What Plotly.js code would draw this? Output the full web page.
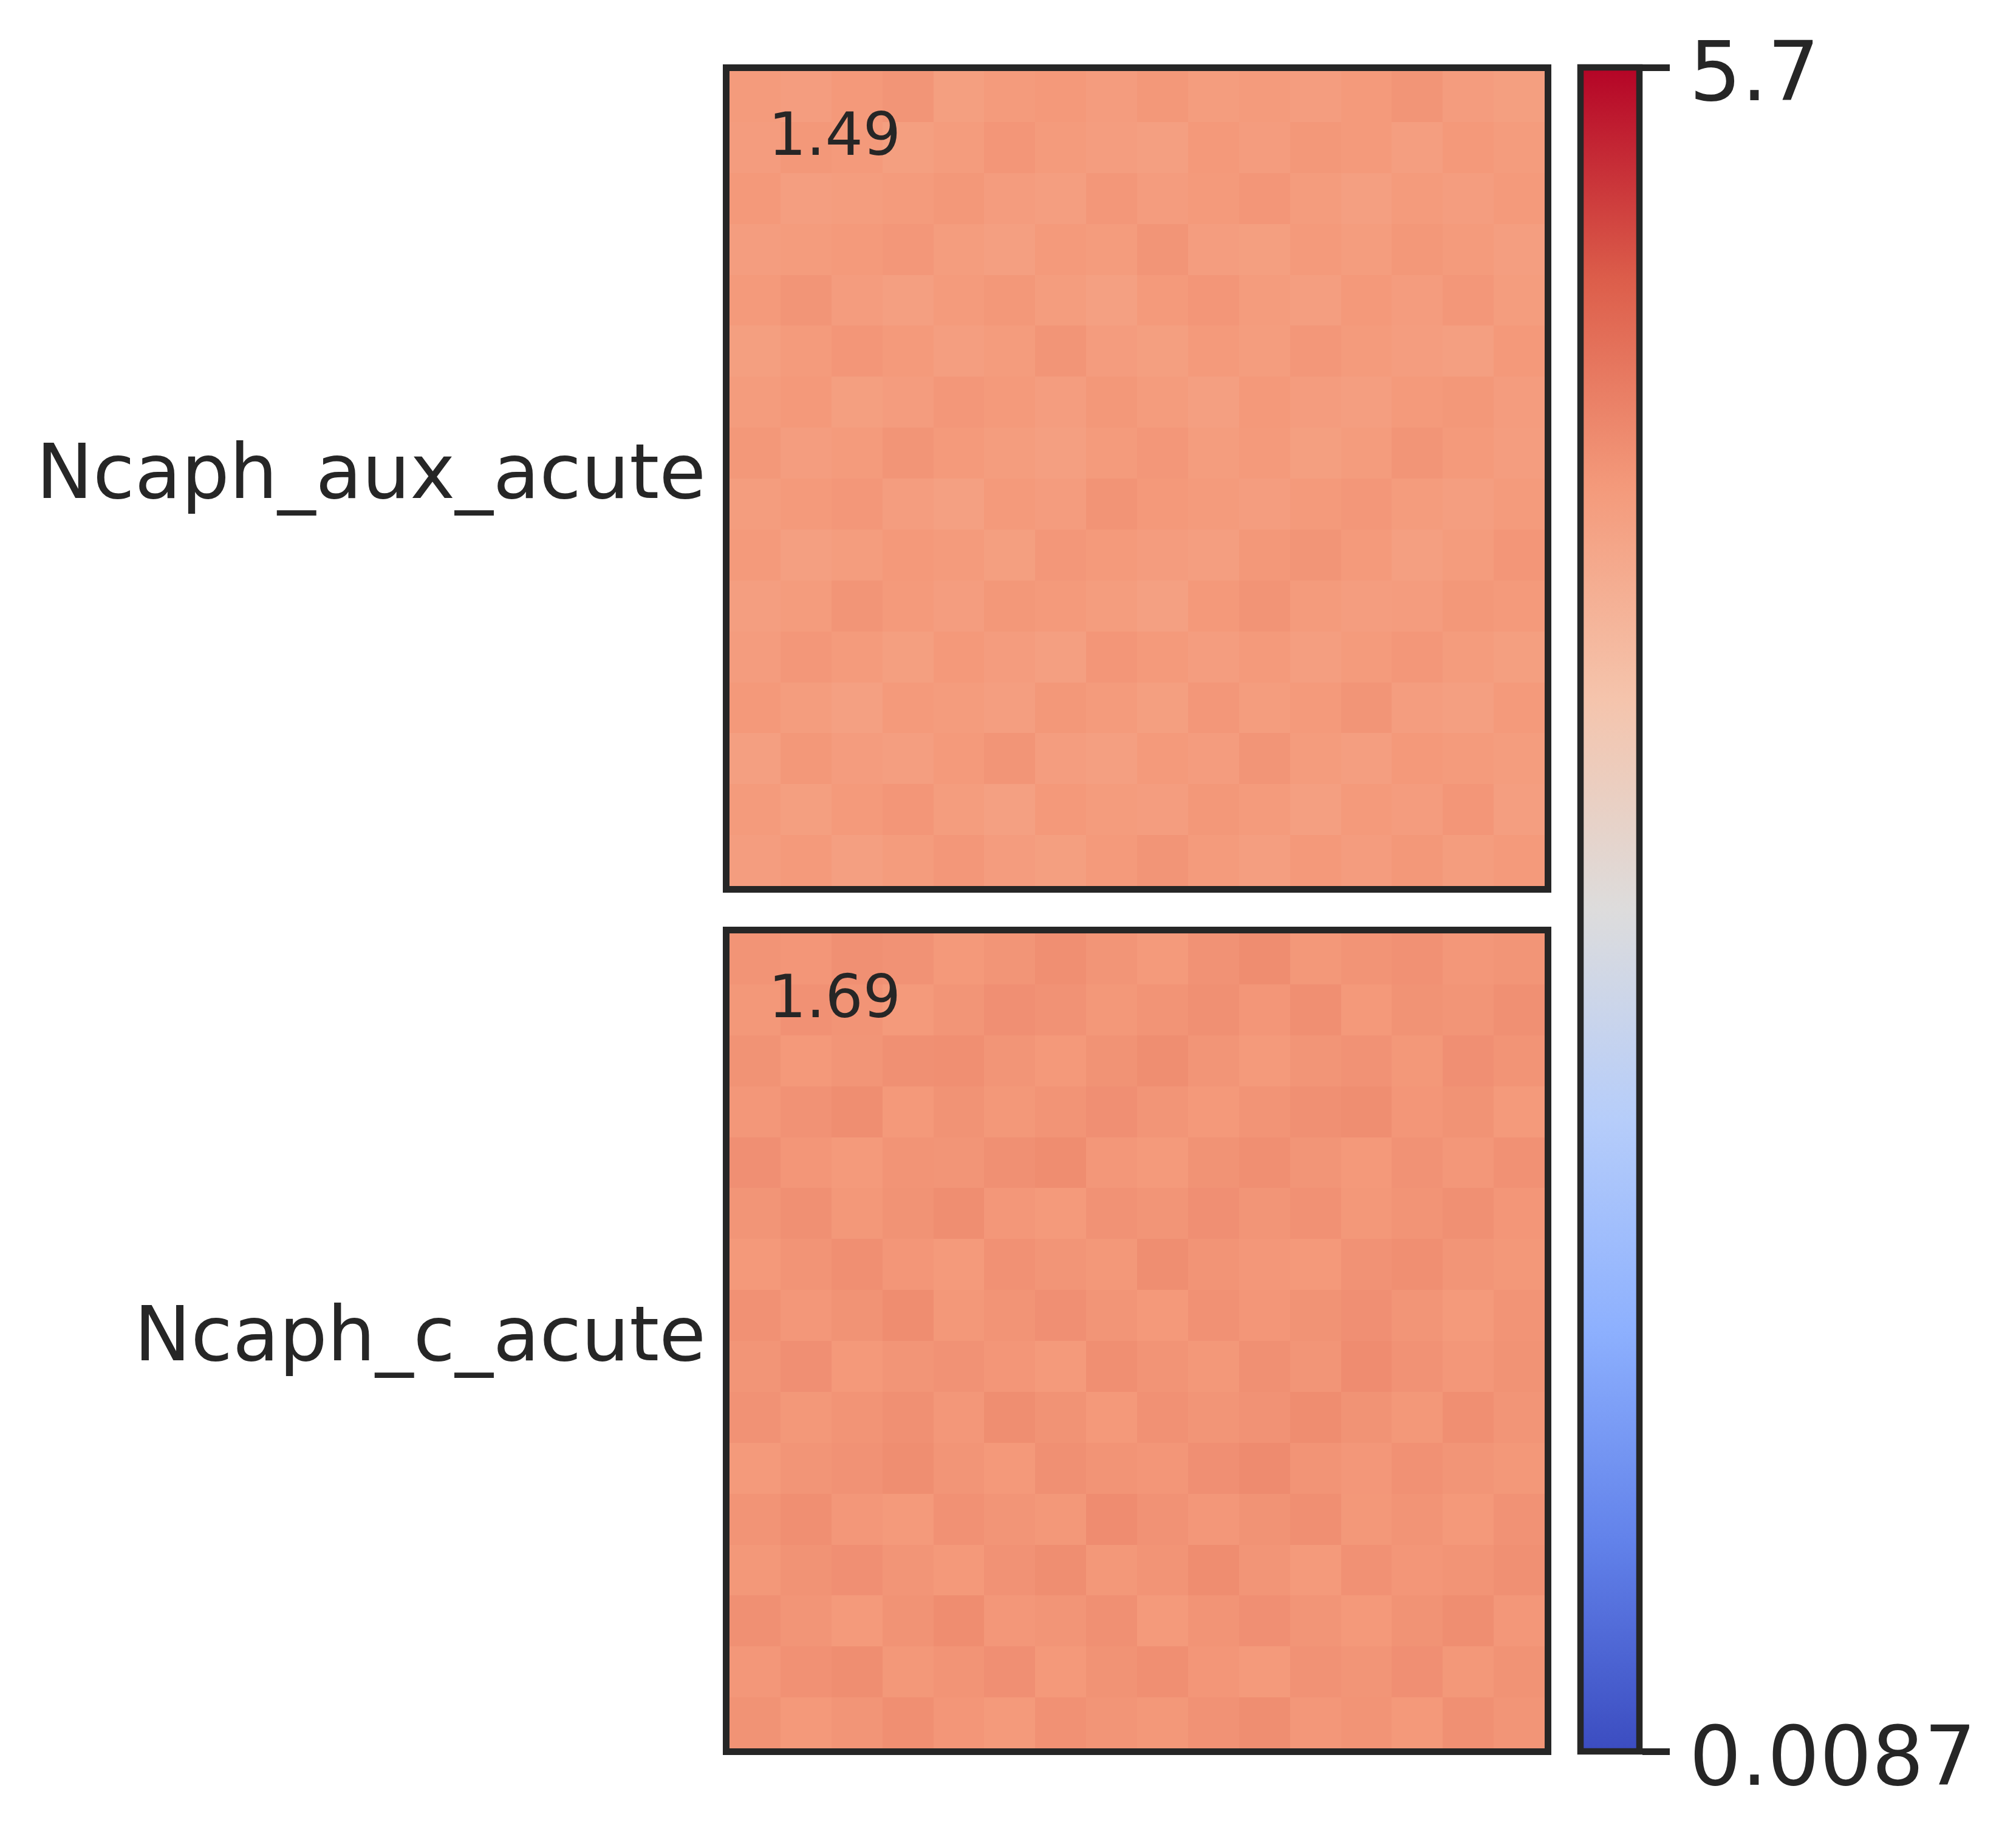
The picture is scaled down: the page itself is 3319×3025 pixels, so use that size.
<!DOCTYPE html>
<html>
<head>
<meta charset="utf-8">
<script src="https://cdn.plot.ly/plotly-3.0.1.min.js"></script>
<style>html,body{margin:0;padding:0;background:#fff}</style>
</head>
<body>
<div id="chart" style="width:3319px;height:3025px"></div>
<script>
// NOTE: the reference holds ~300x300 noise cells per panel, which cannot be read individually.
// These are coarse, hand-estimated block averages; the pixel-level speckle is not reproduced.
const rowLabels = ["Ncaph_aux_acute", "Ncaph_c_acute"];
const panelStats = ["1.49", "1.69"];
const colorTicks = [0.0087, 5.7];
const colorTickText = ["0.0087", "5.7"];
const auxAcute = [
[4.22,4.28,4.19,4.25,4.31,4.24,4.20,4.27,4.33,4.26,4.21,4.29,4.24,4.30,4.23,4.27],
[4.26,4.20,4.27,4.32,4.23,4.18,4.29,4.25,4.22,4.30,4.26,4.19,4.28,4.24,4.32,4.21],
[4.19,4.30,4.24,4.21,4.28,4.33,4.22,4.19,4.27,4.24,4.34,4.25,4.21,4.29,4.26,4.23],
[4.29,4.23,4.18,4.27,4.25,4.21,4.30,4.26,4.20,4.31,4.23,4.28,4.33,4.22,4.19,4.28],
[4.24,4.31,4.26,4.20,4.29,4.24,4.19,4.32,4.28,4.22,4.27,4.21,4.26,4.31,4.25,4.20],
[4.21,4.25,4.33,4.28,4.22,4.30,4.27,4.23,4.18,4.29,4.35,4.26,4.22,4.24,4.30,4.27],
[4.28,4.19,4.23,4.29,4.26,4.20,4.31,4.28,4.24,4.21,4.30,4.34,4.27,4.19,4.25,4.32],
[4.23,4.27,4.31,4.22,4.18,4.27,4.24,4.35,4.29,4.26,4.22,4.28,4.31,4.25,4.21,4.26],
[4.30,4.22,4.26,4.34,4.28,4.23,4.19,4.26,4.31,4.23,4.27,4.20,4.25,4.33,4.28,4.22],
[4.25,4.29,4.20,4.24,4.31,4.27,4.22,4.30,4.25,4.19,4.29,4.24,4.21,4.27,4.30,4.24],
[4.20,4.26,4.32,4.27,4.21,4.25,4.33,4.24,4.20,4.28,4.23,4.31,4.26,4.22,4.19,4.29],
[4.27,4.33,4.24,4.19,4.26,4.30,4.23,4.18,4.27,4.32,4.25,4.21,4.29,4.24,4.31,4.23],
[4.22,4.25,4.28,4.31,4.23,4.19,4.28,4.25,4.33,4.22,4.20,4.27,4.23,4.30,4.26,4.21],
[4.29,4.21,4.23,4.26,4.30,4.24,4.21,4.31,4.24,4.27,4.32,4.25,4.19,4.26,4.22,4.28],
[4.24,4.30,4.27,4.20,4.25,4.32,4.26,4.22,4.19,4.29,4.24,4.30,4.27,4.21,4.29,4.25],
[4.26,4.22,4.29,4.33,4.20,4.26,4.29,4.24,4.30,4.23,4.26,4.22,4.28,4.33,4.24,4.20]
];
const cAcute = [
[4.36,4.29,4.34,4.41,4.32,4.28,4.38,4.33,4.30,4.37,4.42,4.31,4.35,4.29,4.39,4.33],
[4.31,4.38,4.42,4.30,4.35,4.40,4.29,4.36,4.41,4.32,4.28,4.37,4.33,4.40,4.30,4.36],
[4.39,4.33,4.28,4.36,4.43,4.31,4.34,4.39,4.28,4.35,4.40,4.34,4.29,4.36,4.42,4.31],
[4.30,4.36,4.40,4.33,4.29,4.37,4.42,4.30,4.35,4.43,4.33,4.27,4.38,4.32,4.35,4.39],
[4.35,4.41,4.31,4.27,4.38,4.34,4.30,4.44,4.37,4.31,4.36,4.41,4.30,4.35,4.29,4.37],
[4.28,4.34,4.37,4.42,4.33,4.29,4.39,4.35,4.32,4.40,4.45,4.35,4.31,4.38,4.33,4.30],
[4.37,4.30,4.35,4.39,4.31,4.42,4.36,4.29,4.38,4.34,4.37,4.43,4.36,4.30,4.41,4.34],
[4.33,4.40,4.29,4.34,4.37,4.32,4.28,4.41,4.35,4.30,4.39,4.33,4.44,4.37,4.31,4.36],
[4.38,4.31,4.36,4.43,4.30,4.35,4.40,4.33,4.29,4.38,4.32,4.36,4.40,4.34,4.28,4.35],
[4.29,4.35,4.41,4.32,4.28,4.38,4.34,4.30,4.42,4.35,4.31,4.29,4.37,4.41,4.33,4.30],
[4.34,4.39,4.30,4.36,4.42,4.31,4.27,4.37,4.33,4.40,4.34,4.38,4.30,4.35,4.39,4.32],
[4.40,4.32,4.28,4.35,4.33,4.39,4.43,4.31,4.28,4.36,4.41,4.33,4.29,4.37,4.31,4.38],
[4.31,4.37,4.42,4.29,4.36,4.30,4.35,4.40,4.34,4.29,4.35,4.39,4.42,4.32,4.36,4.28],
[4.36,4.29,4.33,4.39,4.41,4.34,4.29,4.36,4.42,4.33,4.28,4.34,4.37,4.30,4.40,4.35],
[4.30,4.38,4.35,4.28,4.34,4.40,4.37,4.30,4.35,4.39,4.32,4.41,4.29,4.36,4.33,4.39],
[4.35,4.32,4.39,4.37,4.29,4.33,4.41,4.34,4.28,4.37,4.43,4.30,4.35,4.38,4.31,4.34]
];
const coolwarm = [
[0,"#3b4cc0"],[0.125,"#6282ea"],[0.25,"#8db0fe"],[0.375,"#b6cdfa"],[0.5,"#dddcdc"],
[0.625,"#f5c4ac"],[0.75,"#f49a7b"],[0.875,"#dc5d4a"],[1,"#b40426"]
];
const W=3319,H=3025,ink="#262626",lw=10.5;
const fx=p=>p/W, fy=p=>1-p/H;
function axisBase(){return {showgrid:false,zeroline:false,showline:true,mirror:true,linecolor:ink,linewidth:lw,fixedrange:true};}
const data=[
 {type:"heatmap",z:auxAcute,xaxis:"x",yaxis:"y",coloraxis:"coloraxis",hoverinfo:"skip"},
 {type:"heatmap",z:cAcute,xaxis:"x2",yaxis:"y2",coloraxis:"coloraxis",hoverinfo:"skip"}
];
function yAxis(label,top,bottom){return Object.assign(axisBase(),{domain:[fy(bottom),fy(top)],tickmode:"array",tickvals:[7.64],ticktext:[label],
  ticks:"outside",ticklen:3,tickcolor:"rgba(0,0,0,0)",tickwidth:1,tickfont:{family:"DejaVu Sans",size:125,color:ink}});}
function xAxis(anchor){return Object.assign(axisBase(),{domain:[fx(1201),fx(2543)],anchor:anchor,showticklabels:false,ticks:""});}
function note(text,x,y,size,vAnchor){return {text:text,xref:"paper",yref:"paper",x:fx(x),y:fy(y),xanchor:"left",yanchor:vAnchor,showarrow:false,borderpad:0,font:{family:"DejaVu Sans",size:size,color:ink}};}
const layout={
 width:W,height:H,margin:{l:0,r:0,t:0,b:0},paper_bgcolor:"#fff",plot_bgcolor:"#fff",showlegend:false,
 xaxis:xAxis("y"),xaxis2:xAxis("y2"),
 yaxis:yAxis(rowLabels[0],117,1459),
 yaxis2:yAxis(rowLabels[1],1537,2879),
 coloraxis:{cmin:colorTicks[0],cmax:colorTicks[1],colorscale:coolwarm,
  colorbar:{x:fx(2602),xanchor:"left",xpad:0,y:fy(2884),yanchor:"bottom",ypad:0,
   len:2772.5,lenmode:"pixels",thickness:97,thicknessmode:"pixels",
   outlinecolor:ink,outlinewidth:lw,borderwidth:0,
   tickmode:"array",tickvals:colorTicks,ticktext:colorTickText,showticklabels:false,ticks:"outside",ticklen:45,tickwidth:lw,tickcolor:ink}},
 annotations:[
  note(panelStats[0],1264,279,98,"bottom"),
  note(panelStats[1],1264,1699,98,"bottom"),
  note(colorTickText[1],2780,118,135,"middle"),
  note(colorTickText[0],2780,2892,135,"middle")
 ]
};
Plotly.newPlot("chart",data,layout,{displayModeBar:false,responsive:false});
</script>
</body>
</html>
